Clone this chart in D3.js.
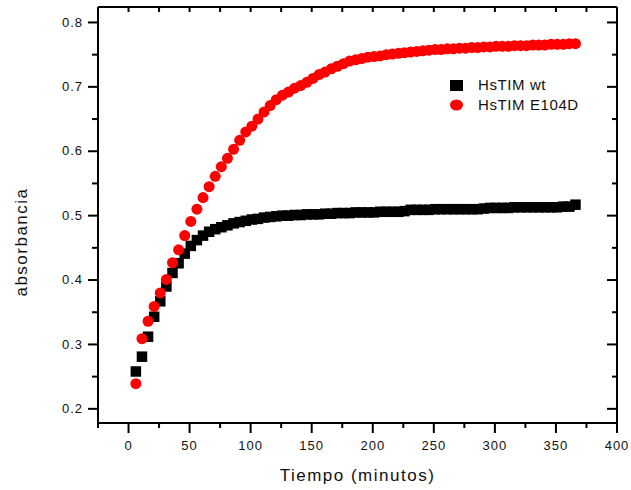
<!DOCTYPE html>
<html>
<head>
<meta charset="utf-8">
<script src="https://cdn.jsdelivr.net/npm/d3@7"></script>
<style>
  body { margin: 0; background: #fff; }
  .chart text { font-family: Arial, "Liberation Sans", sans-serif; fill: #111; }
</style>
</head>
<body>
<div class="chart"></div>
<script>
// Data
var times = [6, 11, 16, 21, 26, 31, 36, 41, 46, 51, 56, 61, 66, 71, 76, 81, 86, 91, 96, 101,
  106, 111, 116, 121, 126, 131, 136, 141, 146, 151, 156, 161, 166, 171, 176, 181, 186, 191, 196, 201,
  206, 211, 216, 221, 226, 231, 236, 241, 246, 251, 256, 261, 266, 271, 276, 281, 286, 291, 296, 301,
  306, 311, 316, 321, 326, 331, 336, 341, 346, 351, 356, 361, 366];

var wtValues = [0.258, 0.281, 0.312, 0.343, 0.367, 0.390, 0.411, 0.426, 0.441, 0.453,
  0.462, 0.469, 0.475, 0.479, 0.482, 0.485, 0.488, 0.490, 0.492, 0.494,
  0.495, 0.497, 0.498, 0.499, 0.500, 0.500, 0.501, 0.501, 0.502, 0.502,
  0.502, 0.503, 0.503, 0.504, 0.504, 0.504, 0.505, 0.505, 0.505, 0.505,
  0.506, 0.506, 0.506, 0.506, 0.507, 0.509, 0.509, 0.509, 0.509, 0.510,
  0.510, 0.510, 0.510, 0.510, 0.510, 0.510, 0.510, 0.511, 0.512, 0.512,
  0.512, 0.512, 0.513, 0.513, 0.513, 0.513, 0.513, 0.513, 0.513, 0.513,
  0.514, 0.514, 0.517];

var mutValues = [0.239, 0.309, 0.336, 0.359, 0.380, 0.401, 0.427, 0.447, 0.469, 0.491,
  0.510, 0.528, 0.545, 0.561, 0.576, 0.589, 0.603, 0.617, 0.630, 0.639,
  0.650, 0.661, 0.671, 0.680, 0.687, 0.692, 0.698, 0.702, 0.707, 0.713,
  0.719, 0.723, 0.728, 0.732, 0.736, 0.740, 0.742, 0.744, 0.746, 0.747,
  0.748, 0.750, 0.751, 0.752, 0.753, 0.754, 0.755, 0.756, 0.757, 0.758,
  0.758, 0.759, 0.759, 0.760, 0.760, 0.761, 0.761, 0.762, 0.762, 0.763,
  0.763, 0.763, 0.764, 0.764, 0.764, 0.765, 0.765, 0.765, 0.766, 0.766,
  0.766, 0.767, 0.767];

var xTicks = [0, 50, 100, 150, 200, 250, 300, 350, 400];
var xMinorTicks = [-25, 25, 75, 125, 175, 225, 275, 325, 375];
var yTicks = [0.2, 0.3, 0.4, 0.5, 0.6, 0.7, 0.8];
var yMinorTicks = [0.25, 0.35, 0.45, 0.55, 0.65, 0.75];
var seriesNames = ["HsTIM wt", "HsTIM E104D"];

(function(document, d3) {
  var chart = document.querySelector(".chart");

  // Dimensions
  var margin = { top: 7, right: 14, bottom: 67, left: 98 };
  var width = 631 - margin.left - margin.right;
  var height = 490 - margin.top - margin.bottom;

  var x = d3.scaleLinear().domain([-25, 400]).range([0, width]);
  var y = d3.scaleLinear().domain([0.178, 0.824]).range([height, 0]);

  var svg = d3.select(chart).append("svg")
      .attr("width", 631)
      .attr("height", 490)
    .append("g")
      .attr("transform", "translate(" + margin.left + "," + margin.top + ")");

  // Axes: major ticks outward on bottom/left, inward on top/right
  function styleAxis(g, letter) {
    g.selectAll("path, line")
      .attr("stroke", "#000")
      .attr("stroke-width", 2);
    g.selectAll("text")
      .style("font-size", "13px")
      .style("letter-spacing", letter || "0px");
  }

  svg.append("g")
    .attr("transform", "translate(0," + height + ")")
    .call(d3.axisBottom(x).offset(0).tickValues(xMinorTicks).tickSize(5).tickSizeOuter(0).tickFormat(""))
    .call(styleAxis);
  svg.append("g")
    .attr("transform", "translate(0," + height + ")")
    .call(d3.axisBottom(x).offset(0).tickValues(xTicks).tickSize(10).tickSizeOuter(0).tickPadding(8).tickFormat(d3.format("d")))
    .call(styleAxis, "1px");

  svg.append("g")
    .call(d3.axisLeft(y).offset(0).tickValues(yMinorTicks).tickSize(6).tickSizeOuter(0).tickFormat(""))
    .call(styleAxis);
  svg.append("g")
    .call(d3.axisLeft(y).offset(0).tickValues(yTicks).tickSize(10).tickSizeOuter(0).tickPadding(5).tickFormat(d3.format(".1f")))
    .call(styleAxis, "1px");

  svg.append("g")
    .call(d3.axisTop(x).offset(0).tickValues(xTicks.concat(xMinorTicks)).tickSize(-5).tickSizeOuter(0).tickFormat(""))
    .call(styleAxis);
  svg.append("g")
    .attr("transform", "translate(" + width + ",0)")
    .call(d3.axisRight(y).offset(0).tickValues(yTicks).tickSize(-10).tickSizeOuter(0).tickFormat(""))
    .call(styleAxis);
  svg.append("g")
    .attr("transform", "translate(" + width + ",0)")
    .call(d3.axisRight(y).offset(0).tickValues(yMinorTicks).tickSize(-5).tickSizeOuter(0).tickFormat(""))
    .call(styleAxis);

  // Series
  var wt = times.map(function(t, i) { return { t: t, v: wtValues[i] }; });
  var mut = times.map(function(t, i) { return { t: t, v: mutValues[i] }; });
  var side = 10.5;

  svg.append("g").selectAll("rect")
      .data(wt)
    .enter().append("rect")
      .attr("x", function(d) { return x(d.t) - side / 2; })
      .attr("y", function(d) { return y(d.v) - side / 2; })
      .attr("width", side)
      .attr("height", side)
      .attr("fill", "#000");

  svg.append("g").selectAll("circle")
      .data(mut)
    .enter().append("circle")
      .attr("cx", function(d) { return x(d.t); })
      .attr("cy", function(d) { return y(d.v); })
      .attr("r", 5.5)
      .attr("fill", "#ff0000");

  // Legend
  var legend = svg.append("g")
      .attr("transform", "translate(" + (450 - margin.left) + "," + (80 - margin.top) + ")");

  legend.append("rect")
    .attr("x", 0).attr("y", 0).attr("width", 13).attr("height", 11)
    .attr("fill", "#000");
  legend.append("ellipse")
    .attr("cx", 6.5).attr("cy", 25).attr("rx", 6.5).attr("ry", 5.5)
    .attr("fill", "#ff0000");

  legend.selectAll("text.label")
      .data(seriesNames)
    .enter().append("text")
      .attr("class", "label")
      .attr("x", 28)
      .attr("y", function(d, i) { return 10 + i * 19.5; })
      .style("font-size", "15px")
      .style("letter-spacing", "0.6px")
      .text(function(d) { return d; });

  // Axis titles
  svg.append("text")
    .attr("x", width / 2)
    .attr("y", 481 - margin.top)
    .attr("text-anchor", "middle")
    .style("font-size", "17px")
    .style("letter-spacing", "1.5px")
    .text("Tiempo (minutos)");

  svg.append("text")
    .attr("transform", "translate(" + (27 - margin.left) + "," + (242 - margin.top) + ") rotate(-90)")
    .attr("text-anchor", "middle")
    .style("font-size", "17px")
    .style("letter-spacing", "1.5px")
    .text("absorbancia");

})(document, d3);
</script>
</body>
</html>
